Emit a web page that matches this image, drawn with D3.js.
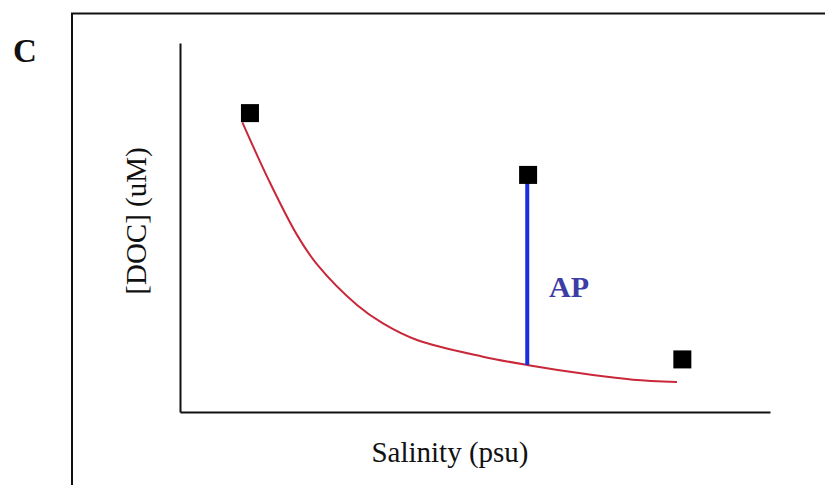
<!DOCTYPE html>
<html><head><meta charset="utf-8">
<script src="https://cdn.jsdelivr.net/npm/d3@7"></script>
<style>html,body{margin:0;padding:0;background:#fff;}svg{display:block;}</style>
</head><body>
<script>
// Data (salinity in psu, DOC in uM)
const curveSalinity = [3.7, 5.3, 6.94, 8.13, 10.5, 12.04, 14.06, 17.97, 20.58, 24.5, 26.87, 29.48];
const curveDOC      = [314, 250, 192, 160, 116, 96, 78, 60, 51, 40, 35, 32.5];
const pointSalinity = [4.15, 20.65, 29.8];
const pointDOC      = [324, 257, 57];
const apSalinity = 20.6;
const apDOC = [257, 51];
const panelLabel = "C";
const xTitle = "Salinity (psu)";
const yTitle = "[DOC] (uM)";
const apLabel = "AP";

const W = 825, H = 485;
const svg = d3.select("body").append("svg").attr("width", W).attr("height", H);
svg.append("rect").attr("width", W).attr("height", H).attr("fill", "#fff");

// outer frame
svg.append("path").attr("d", `M72,${H} L72,13.5 L${W},13.5`).attr("fill", "none")
  .attr("stroke", "#111").attr("stroke-width", 2);

svg.append("text").attr("x", 13).attr("y", 62).text(panelLabel)
  .attr("font-family", "Liberation Serif").attr("font-weight", "bold").attr("font-size", 33).attr("fill", "#111");

const x = d3.scaleLinear().domain([0, 35]).range([180, 770]);
const y = d3.scaleLinear().domain([0, 400]).range([412, 43]);

// axes (no ticks)
const gx = svg.append("g").attr("transform", "translate(0,412)").call(d3.axisBottom(x).tickValues([]).tickSizeOuter(0));
const gy = svg.append("g").attr("transform", "translate(180,0)").call(d3.axisLeft(y).tickValues([]).tickSizeOuter(0));
[gx, gy].forEach(g => g.select(".domain").attr("stroke", "#111").attr("stroke-width", 2));

svg.append("text").attr("x", 450).attr("y", 462).attr("text-anchor", "middle").text(xTitle)
  .attr("font-family", "Liberation Serif").attr("font-size", 29).attr("fill", "#111");
svg.append("text").attr("transform", "translate(146,221) rotate(-90)").attr("text-anchor", "middle").text(yTitle)
  .attr("font-family", "Liberation Serif").attr("font-size", 29).attr("fill", "#111");

// mixing curve
const curveData = curveSalinity.map((s, i) => [s, curveDOC[i]]);
svg.append("path").datum(curveData)
  .attr("d", d3.line().x(d => x(d[0])).y(d => y(d[1])).curve(d3.curveCatmullRom.alpha(0.5)))
  .attr("fill", "none").attr("stroke", "#c8283a").attr("stroke-width", 2);

// AP line
svg.append("line").attr("x1", x(apSalinity)).attr("x2", x(apSalinity))
  .attr("y1", y(apDOC[0])).attr("y2", y(apDOC[1]))
  .attr("stroke", "#1a2ee0").attr("stroke-width", 4);
svg.append("text").attr("x", 549).attr("y", 297).text(apLabel)
  .attr("font-family", "Liberation Serif").attr("font-weight", "bold").attr("font-size", 30).attr("fill", "#3d3da6");

// points
const sz = 18;
svg.selectAll("rect.pt").data(pointSalinity.map((s, i) => [s, pointDOC[i]])).enter()
  .append("rect").attr("class", "pt")
  .attr("x", d => x(d[0]) - sz / 2).attr("y", d => y(d[1]) - sz / 2)
  .attr("width", sz).attr("height", sz).attr("fill", "#000");
</script>
</body></html>
